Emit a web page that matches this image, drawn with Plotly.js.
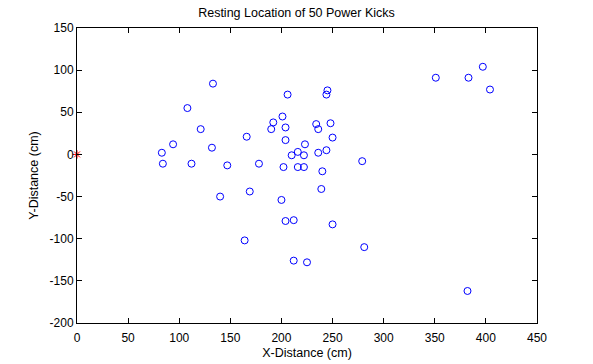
<!DOCTYPE html>
<html>
<head>
<meta charset="utf-8">
<script src="https://cdn.plot.ly/plotly-3.0.1.min.js"></script>
<style>html,body{margin:0;padding:0;background:#fff;}#plot{width:593px;height:364px;}</style>
</head>
<body>
<div id="plot"></div>
<script>
const kickX = [133,108,121,94,83,132,166,84,112,147,178,206,201,192,190,204,204,216,210,202,216,169,140,200,204,212,164,212,225,239,397,351,383,404,248,250,245,244,234,236,223,222,236,244,222,240,250,279,281,382];
const kickY = [84,55,30,12,2,8,21,-11,-11,-13,-11,71,45,38,30,32,17,3,-1,-15,-15,-44,-50,-54,-79,-78,-102,-126,-128,-41,104,91,91,77,37,20,76,71,36,30,12,-1,2,5,-15,-20,-83,-8,-110,-162];
const originX = [0];
const originY = [0];
const xTicks = [0,50,100,150,200,250,300,350,400,450];
const yTicks = [-200,-150,-100,-50,0,50,100,150];

const fam = '"Liberation Sans", Arial, sans-serif';
const tickFnt = {family: fam, size: 12, color: '#000'};
const txtFnt = {family: fam, size: 12.5, color: '#000'};

Plotly.newPlot('plot', [
  {x: kickX, y: kickY, type: 'scatter', mode: 'markers', cliponaxis: false,
   marker: {symbol: 'circle-open', size: 7, color: '#0000ff', line: {width: 1, color: '#0000ff'}}},
  {x: originX, y: originY, type: 'scatter', mode: 'markers', cliponaxis: false,
   marker: {symbol: 'asterisk-open', size: 7, color: '#ff0000', line: {width: 1, color: '#ff0000'}}}
], {
  width: 593, height: 364,
  margin: {l: 77, r: 56, t: 28, b: 41},
  paper_bgcolor: '#fff', plot_bgcolor: '#fff',
  showlegend: false,
  font: tickFnt,
  title: {text: 'Resting Location of 50 Power Kicks', font: txtFnt, x: 0.5, xanchor: 'center', y: 1 - 13/364, yanchor: 'middle'},
  xaxis: {range: [0, 450], tickvals: xTicks, ticktext: xTicks.map(String), showgrid: false, zeroline: false,
          showline: true, linecolor: '#000', linewidth: 1, mirror: 'ticks', ticks: 'inside', ticklen: 5, tickcolor: '#000',
          ticklabelstandoff: 4,
          tickfont: tickFnt, title: {text: 'X-Distance (cm)', font: txtFnt, standoff: 3}},
  yaxis: {range: [-200, 150], tickvals: yTicks, ticktext: yTicks.map(String), showgrid: false, zeroline: false,
          showline: true, linecolor: '#000', linewidth: 1, mirror: 'ticks', ticks: 'inside', ticklen: 5, tickcolor: '#000',
          tickfont: tickFnt, title: {text: 'Y-Distance (cm)', font: txtFnt, standoff: 8}}
}, {staticPlot: true, displayModeBar: false});
</script>
</body>
</html>
